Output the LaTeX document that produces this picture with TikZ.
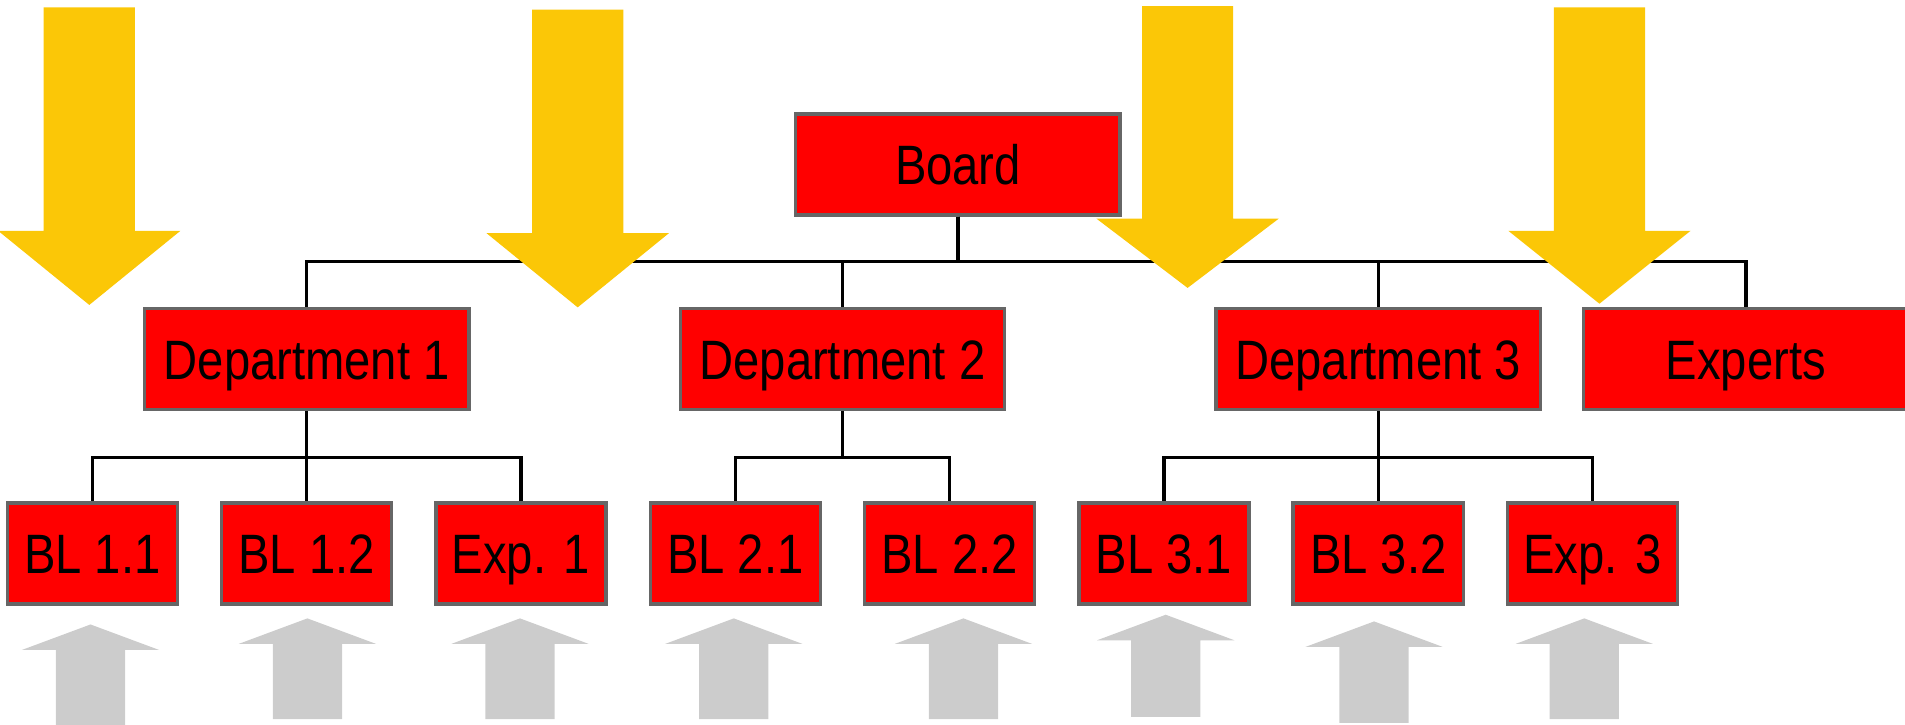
\documentclass[tikz,border=0pt]{standalone}
\usepackage{fontspec}
\setmainfont[FakeStretch=0.85]{Liberation Sans}

\begin{document}
\begin{tikzpicture}[
    unit/.style={draw=black!60,fill=red,line width=0.8pt,
                 minimum width=2.67cm,minimum height=0.83cm,
                 text height=9.4pt,text depth=0pt,inner sep=0pt,
                 font=\fontsize{13}{15}\selectfont},
    bl/.style={unit,minimum width=1.40cm},
    link/.style={line width=0.8pt,black},
    topdown/.style={fill=yellow!80!red},
    bottomup/.style={fill=black!20},
]
\useasboundingbox (0,0) rectangle (15.68,-5.96);
\clip (0,0) rectangle (15.68,-5.96);

% Board and departments
\node[unit] (board) at (7.885,-1.355)  {Board};
\node[unit] (dep1)  at (2.524,-2.955)  {Department 1};
\node[unit] (dep2)  at (6.934,-2.955)  {Department 2};
\node[unit] (dep3)  at (11.344,-2.955) {Department 3};
\node[unit] (exp)   at (14.37,-2.955)  {Experts};

% Business lines
\node[bl] (bl11) at (0.760,-4.555)  {BL 1.1};
\node[bl] (bl12) at (2.524,-4.555)  {BL 1.2};
\node[bl] (exp1) at (4.288,-4.555)  {Exp. 1};
\node[bl] (bl21) at (6.052,-4.555)  {BL 2.1};
\node[bl] (bl22) at (7.816,-4.555)  {BL 2.2};
\node[bl] (bl31) at (9.580,-4.555)  {BL 3.1};
\node[bl] (bl32) at (11.344,-4.555) {BL 3.2};
\node[bl] (exp3) at (13.108,-4.555) {Exp. 3};

% Tree lines
\draw[link] (board.south) -- ++(0,-0.37) -| (dep1.north);
\draw[link] (board.south) -- ++(0,-0.37) -| (dep2.north);
\draw[link] (board.south) -- ++(0,-0.37) -| (dep3.north);
\draw[link] (board.south) -- ++(0,-0.37) -| (exp.north);

\draw[link] (dep1.south) -- ++(0,-0.38) -| (bl11.north);
\draw[link] (dep1.south) -- (bl12.north);
\draw[link] (dep1.south) -- ++(0,-0.38) -| (exp1.north);
\draw[link] (dep2.south) -- ++(0,-0.38) -| (bl21.north);
\draw[link] (dep2.south) -- ++(0,-0.38) -| (bl22.north);
\draw[link] (dep3.south) -- ++(0,-0.38) -| (bl31.north);
\draw[link] (dep3.south) -- (bl32.north);
\draw[link] (dep3.south) -- ++(0,-0.38) -| (exp3.north);

% Arrows from above
\fill[topdown] (0.36,-0.06)  -- ++(0.75,0) -- ++(0,-1.84) -- ++(0.375,0) -- ++(-0.75,-0.61) -- ++(-0.75,0.61) -- ++(0.375,0) -- cycle;
\fill[topdown] (4.38,-0.08)  -- ++(0.75,0) -- ++(0,-1.84) -- ++(0.375,0) -- ++(-0.75,-0.61) -- ++(-0.75,0.61) -- ++(0.375,0) -- cycle;
\fill[topdown] (9.40,-0.05)  -- ++(0.75,0) -- ++(0,-1.75) -- ++(0.375,0) -- ++(-0.75,-0.57) -- ++(-0.75,0.57) -- ++(0.375,0) -- cycle;
\fill[topdown] (12.79,-0.06) -- ++(0.75,0) -- ++(0,-1.84) -- ++(0.375,0) -- ++(-0.75,-0.60) -- ++(-0.75,0.60) -- ++(0.375,0) -- cycle;

% Arrows from below
\fill[bottomup] (0.46,-6.00)   -- ++(0.57,0) -- ++(0,0.65)  -- ++(0.28,0) -- ++(-0.565,0.21) -- ++(-0.565,-0.21) -- ++(0.28,0) -- cycle;
\fill[bottomup] (2.245,-5.92)  -- ++(0.57,0) -- ++(0,0.62)  -- ++(0.28,0) -- ++(-0.565,0.21) -- ++(-0.565,-0.21) -- ++(0.28,0) -- cycle;
\fill[bottomup] (3.995,-5.92)  -- ++(0.57,0) -- ++(0,0.62)  -- ++(0.28,0) -- ++(-0.565,0.21) -- ++(-0.565,-0.21) -- ++(0.28,0) -- cycle;
\fill[bottomup] (5.755,-5.92)  -- ++(0.57,0) -- ++(0,0.62)  -- ++(0.28,0) -- ++(-0.565,0.21) -- ++(-0.565,-0.21) -- ++(0.28,0) -- cycle;
\fill[bottomup] (7.645,-5.92)  -- ++(0.57,0) -- ++(0,0.62)  -- ++(0.28,0) -- ++(-0.565,0.21) -- ++(-0.565,-0.21) -- ++(0.28,0) -- cycle;
\fill[bottomup] (9.31,-5.90)   -- ++(0.57,0) -- ++(0,0.63)  -- ++(0.28,0) -- ++(-0.565,0.21) -- ++(-0.565,-0.21) -- ++(0.28,0) -- cycle;
\fill[bottomup] (11.025,-5.95) -- ++(0.57,0) -- ++(0,0.625) -- ++(0.28,0) -- ++(-0.565,0.21) -- ++(-0.565,-0.21) -- ++(0.28,0) -- cycle;
\fill[bottomup] (12.755,-5.92) -- ++(0.57,0) -- ++(0,0.62)  -- ++(0.28,0) -- ++(-0.565,0.21) -- ++(-0.565,-0.21) -- ++(0.28,0) -- cycle;

\end{tikzpicture}
\end{document}
